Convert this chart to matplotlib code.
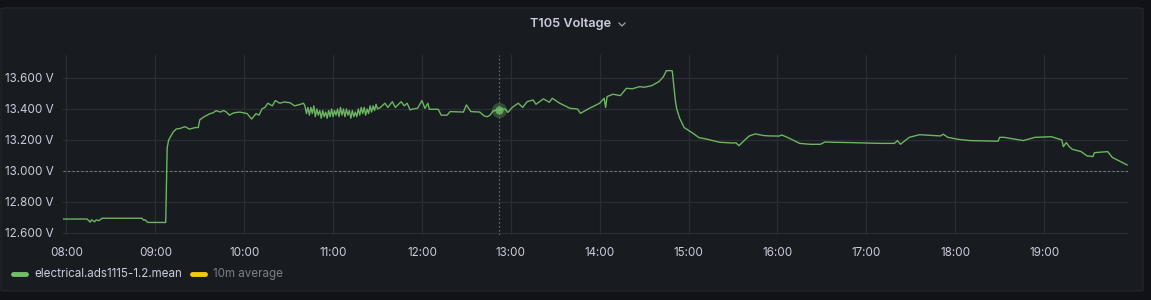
import matplotlib
matplotlib.use("Agg")
import matplotlib.pyplot as plt
import matplotlib.dates as mdates
from matplotlib.patches import FancyBboxPatch
from matplotlib.lines import Line2D
import pandas as pd

day = "2023-06-01 "

# series (time of day, volts)
times = [
    "07:58", "08:09", "08:14", "08:16", "08:17", "08:19", "08:20", "08:22", "08:24",
    "08:51", "08:52", "08:53", "08:55", "09:07", "09:08", "09:09", "09:12", "09:14",
    "09:17", "09:20", "09:23", "09:27", "09:29", "09:30", "09:33", "09:37", "09:39",
    "09:41", "09:44", "09:46", "09:48", "09:50", "09:53", "09:57", "10:02", "10:05",
    "10:08", "10:10", "10:12", "10:14", "10:16", "10:19", "10:21", "10:24", "10:27",
    "10:31", "10:34", "10:38", "10:40",
    "10:41", "10:42", "10:43", "10:44", "10:45", "10:46", "10:47", "10:48", "10:49",
    "10:50", "10:51", "10:52", "10:53", "10:54", "10:55", "10:56", "10:57", "10:58",
    "10:59", "11:00", "11:01", "11:02", "11:03", "11:04", "11:05", "11:06", "11:07",
    "11:08", "11:09", "11:10", "11:11", "11:12", "11:13", "11:14", "11:15", "11:16",
    "11:17", "11:18", "11:19", "11:20", "11:21", "11:22", "11:23", "11:24", "11:25",
    "11:26", "11:27", "11:28", "11:29", "11:30",
    "11:32", "11:35", "11:37", "11:40", "11:42", "11:46", "11:48", "11:50", "11:52",
    "11:54", "11:57", "12:00", "12:02", "12:04", "12:05", "12:11", "12:13", "12:17",
    "12:19", "12:28", "12:30", "12:33", "12:39", "12:42", "12:44", "12:46", "12:48",
    "12:52", "12:56", "12:58", "13:01", "13:05", "13:08", "13:11", "13:15", "13:17",
    "13:22", "13:26", "13:28", "13:33", "13:40", "13:45", "13:47", "13:53", "14:00",
    "14:03", "14:04", "14:05", "14:09", "14:14", "14:18", "14:22", "14:27", "14:30",
    "14:35", "14:40", "14:43", "14:45", "14:48", "14:49", "14:50", "14:51", "14:52",
    "14:54", "14:57", "15:03", "15:07", "15:12", "15:21", "15:30", "15:32", "15:34",
    "15:38", "15:41", "15:45", "15:51", "15:55", "16:01", "16:03", "16:08", "16:15",
    "16:22", "16:29", "16:32", "16:39", "16:49", "17:09", "17:19", "17:21", "17:23",
    "17:29", "17:36", "17:43", "17:50", "17:52", "17:55", "18:02", "18:10", "18:29",
    "18:30", "18:33", "18:46", "18:54", "19:05", "19:12", "19:13", "19:15", "19:17",
    "19:19", "19:25", "19:29", "19:33", "19:34", "19:43", "19:46", "19:56",
]
volts = [
    12.690, 12.690, 12.690, 12.670, 12.685, 12.672, 12.684, 12.680, 12.695,
    12.695, 12.683, 12.685, 12.668, 12.668, 13.150, 13.200, 13.250, 13.270,
    13.275, 13.286, 13.270, 13.280, 13.280, 13.330, 13.350, 13.370, 13.375,
    13.389, 13.380, 13.390, 13.380, 13.360, 13.375, 13.380, 13.370, 13.335,
    13.370, 13.360, 13.400, 13.410, 13.437, 13.420, 13.454, 13.437, 13.445,
    13.440, 13.420, 13.430, 13.437,
    13.42, 13.37, 13.41, 13.36, 13.41, 13.37, 13.42, 13.35, 13.40,
    13.36, 13.39, 13.34, 13.39, 13.35, 13.38, 13.34, 13.39, 13.35,
    13.40, 13.35, 13.39, 13.36, 13.40, 13.35, 13.41, 13.36, 13.40,
    13.35, 13.40, 13.36, 13.39, 13.34, 13.39, 13.35, 13.38, 13.35,
    13.40, 13.36, 13.41, 13.37, 13.41, 13.36, 13.40, 13.37, 13.42,
    13.38, 13.42, 13.39, 13.43, 13.40,
    13.410, 13.437, 13.410, 13.447, 13.410, 13.447, 13.420, 13.437, 13.394,
    13.400, 13.404, 13.454, 13.404, 13.437, 13.398, 13.398, 13.360, 13.360,
    13.383, 13.380, 13.426, 13.383, 13.380, 13.355, 13.350, 13.360, 13.387,
    13.394, 13.400, 13.378, 13.410, 13.437, 13.410, 13.447, 13.458, 13.430,
    13.465, 13.443, 13.469, 13.437, 13.404, 13.400, 13.372, 13.404, 13.437,
    13.469, 13.410, 13.480, 13.495, 13.486, 13.533, 13.530, 13.544, 13.540,
    13.550, 13.576, 13.608, 13.647, 13.647, 13.645, 13.550, 13.460, 13.400,
    13.340, 13.280, 13.243, 13.215, 13.206, 13.185, 13.180, 13.182, 13.163,
    13.200, 13.226, 13.239, 13.228, 13.226, 13.225, 13.232, 13.211, 13.178,
    13.172, 13.172, 13.187, 13.185, 13.183, 13.178, 13.178, 13.196, 13.172,
    13.217, 13.234, 13.230, 13.226, 13.237, 13.217, 13.204, 13.196, 13.192,
    13.217, 13.217, 13.196, 13.217, 13.221, 13.200, 13.157, 13.183, 13.157,
    13.140, 13.125, 13.097, 13.093, 13.118, 13.125, 13.088, 13.039,
]

threshold = 13.0
hover_time = "12:52"
hover_volt = 13.394
y_ticks = [12.6, 12.8, 13.0, 13.2, 13.4, 13.6]
title = "T105 Voltage"
legend_labels = ["electrical.ads1115-1.2.mean", "10m average"]

page_bg = "#111217"
panel_bg = "#181b1f"
text_col = "#ccccdc"
grid_col = "#2a2d32"
green = "#6cb562"
yellow = "#f2cc0c"

plt.rcParams["font.family"] = ["Inter", "DejaVu Sans"]

t = pd.to_datetime([day + s for s in times])

fig = plt.figure(figsize=(11.51, 3.0), dpi=100, facecolor=page_bg)
W, H = 1151, 300

# panel box
panel = FancyBboxPatch((1 / W, 1 - 291 / H), 1142 / W, 283 / H,
                       boxstyle="round,pad=0,rounding_size=0.004",
                       transform=fig.transFigure, facecolor=panel_bg,
                       edgecolor="#22252b", linewidth=1, zorder=-5)
fig.patches.append(panel)

ax = fig.add_axes([63 / W, 1 - 235 / H, (1128 - 63) / W, (235 - 55) / H])
ax.set_zorder(2)
ax.set_facecolor(panel_bg)
ax.plot(t, volts, color=green, lw=1.0, zorder=3)

ax.axhline(threshold, color="#6c7a89", lw=0.8, ls=(0, (2, 2)), zorder=2)
ht = pd.to_datetime(day + hover_time)
ax.axvline(ht, color="#6a6d75", lw=0.8, ls=(0, (1.5, 2)), zorder=2)
ax.scatter([ht], [hover_volt], s=120, color="#73bf69", alpha=0.3, zorder=4, lw=0)
ax.scatter([ht], [hover_volt], s=35, color="#73bf69", alpha=0.8, zorder=5, lw=0)

ax.set_xlim(pd.to_datetime(day + "07:57:40"), pd.to_datetime(day + "19:56:40"))
ax.set_ylim(12.587, 13.748)
ax.set_yticks(y_ticks)
ax.set_yticklabels([f"{v:.3f} V" for v in y_ticks])
ax.xaxis.set_major_locator(mdates.HourLocator())
ax.xaxis.set_major_formatter(mdates.DateFormatter("%H:%M"))

for s in ax.spines.values():
    s.set_visible(False)
ax.grid(True, color=grid_col, lw=0.9)
ax.set_axisbelow(True)
ax.tick_params(colors=text_col, labelsize=8.4, length=0, pad=7)
ax.tick_params(axis="x", pad=9)

fig.text(571 / W, 1 - 24 / H, title, color=text_col, fontsize=9.2,
         fontweight="semibold", ha="center", va="center")
# dropdown chevron
fig.add_artist(Line2D([619 / W, 622 / W, 625 / W],
                      [1 - 23 / H, 1 - 26 / H, 1 - 23 / H],
                      transform=fig.transFigure, color="#9fa1ad", lw=0.9))

# legend
sw_y = 1 - 274 / H
fig.add_artist(Line2D([13 / W, 26 / W], [sw_y, sw_y], transform=fig.transFigure,
                      color="#73bf69", lw=3.5, solid_capstyle="round"))
fig.text(34 / W, sw_y, legend_labels[0], color=text_col, fontsize=8.35, va="center")
fig.add_artist(Line2D([192 / W, 205 / W], [sw_y, sw_y], transform=fig.transFigure,
                      color=yellow, lw=3.5, solid_capstyle="round"))
fig.text(213 / W, sw_y, legend_labels[1], color="#7d7f88", fontsize=8.35, va="center")

fig.savefig("out.png", dpi=100, facecolor=page_bg)
